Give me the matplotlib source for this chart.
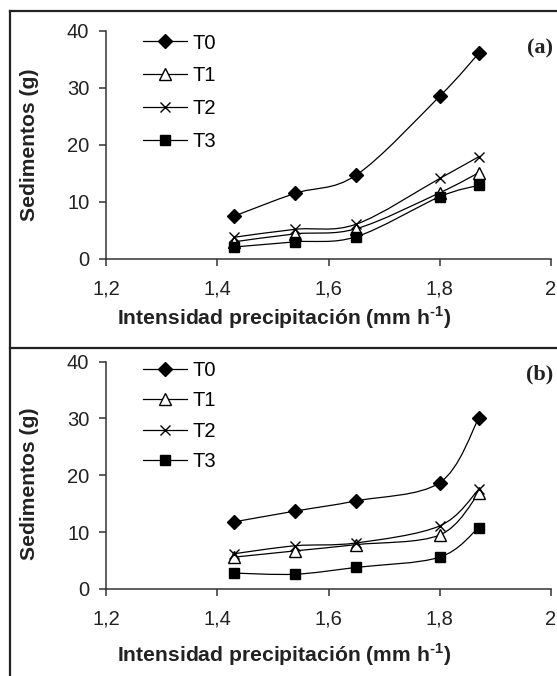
import numpy as np
import matplotlib
matplotlib.use("Agg")
import matplotlib.pyplot as plt
from matplotlib.path import Path
from matplotlib.patches import PathPatch
from matplotlib.lines import Line2D
from matplotlib.ticker import FuncFormatter

# data
intensidad = [1.43, 1.54, 1.65, 1.80, 1.87]
series = ["T0", "T1", "T2", "T3"]

a_T0 = [7.5, 11.5, 14.7, 28.5, 36.0]
a_T1 = [3.0, 4.4, 5.3, 11.6, 15.1]
a_T2 = [3.8, 5.2, 6.1, 14.1, 17.9]
a_T3 = [2.1, 3.0, 3.9, 10.9, 12.9]

b_T0 = [11.8, 13.7, 15.5, 18.7, 30.0]
b_T1 = [5.6, 6.7, 7.8, 9.5, 16.8]
b_T2 = [6.2, 7.6, 8.1, 11.1, 17.5]
b_T3 = [2.8, 2.6, 3.8, 5.6, 10.8]

x_ticks = [1.2, 1.4, 1.6, 1.8, 2.0]
y_ticks = [0, 10, 20, 30, 40]

plt.rcParams['font.family'] = ['Liberation Sans', 'DejaVu Sans']
plt.rcParams['mathtext.fontset'] = 'custom'
plt.rcParams['mathtext.rm'] = 'Liberation Sans:bold'
plt.rcParams['mathtext.bf'] = 'Liberation Sans:bold'

markers = {
    "T0": dict(marker='D', markersize=6.8, markerfacecolor='black', markeredgecolor='black'),
    "T1": dict(marker='^', markersize=8.5, markerfacecolor='white', markeredgecolor='black', markeredgewidth=1.0),
    "T2": dict(marker='x', markersize=7.5, markerfacecolor='none', markeredgecolor='black', markeredgewidth=1.0),
    "T3": dict(marker='s', markersize=7.8, markerfacecolor='black', markeredgecolor='black'),
}


def smooth_path(xs, ys, t=1/6):
    # Excel style smoothed line as cubic bezier segments
    pts = np.column_stack([xs, ys]).astype(float)
    n = len(pts)
    verts = [pts[0]]
    codes = [Path.MOVETO]
    for i in range(n - 1):
        p0 = pts[i - 1] if i > 0 else pts[i]
        p1 = pts[i]
        p2 = pts[i + 1]
        p3 = pts[i + 2] if i + 2 < n else pts[i + 1]
        c1 = p1 + (p2 - p0) * t
        c2 = p2 - (p3 - p1) * t
        verts += [c1, c2, p2]
        codes += [Path.CURVE4] * 3
    return Path(verts, codes)


def draw_panel(ax, data, leg_y, leg_sp):
    for name, vals in zip(series, data):
        ax.add_patch(PathPatch(smooth_path(intensidad, vals), facecolor='none',
                               edgecolor='black', lw=0.9, zorder=2))
    for name, vals in zip(series, data):
        ax.plot(intensidad, vals, linestyle='none', zorder=3, **markers[name])
    ax.set_xlim(1.2, 2.0)
    ax.set_ylim(0, 40)
    ax.set_xticks(x_ticks)
    ax.set_yticks(y_ticks)
    ax.xaxis.set_major_formatter(FuncFormatter(lambda v, p: ('%g' % round(v, 1)).replace('.', ',')))
    for s in ['top', 'right']:
        ax.spines[s].set_visible(False)
    for s in ['left', 'bottom']:
        ax.spines[s].set_linewidth(1.1)
        ax.spines[s].set_color('#333333')
    ax.tick_params(axis='both', direction='out', length=5, width=1.1, color='#333333',
                   labelsize=14.5, labelcolor='#222222')
    ax.tick_params(axis='x', pad=10)
    ax.tick_params(axis='y', pad=7)
    handles = [Line2D([0], [0], color='black', lw=0.9, **markers[n]) for n in series]
    ax.legend(handles, series, loc='upper left', bbox_to_anchor=(0.065, leg_y),
              frameon=False, fontsize=14.5, handlelength=2.2, handletextpad=0.25,
              labelspacing=leg_sp, borderaxespad=0)


fig = plt.figure(figsize=(5.57, 6.76), dpi=100)
W, H = 557, 676

ax1 = fig.add_axes([106 / W, 1 - 259 / H, (551 - 106) / W, (259 - 30.5) / H])
draw_panel(ax1, [a_T0, a_T1, a_T2, a_T3], 1.022, 0.68)
ax2 = fig.add_axes([106 / W, 1 - 589 / H, (551 - 106) / W, (589 - 361.5) / H])
draw_panel(ax2, [b_T0, b_T1, b_T2, b_T3], 1.038, 0.57)

xlabel = 'Intensidad precipitación (mm h$^{\\text{-1}}$)'
for yc, ylc, tag, tagy in [(318, 145, '(a)', 48), (655, 484, '(b)', 374)]:
    fig.text(284 / W, 1 - yc / H, xlabel, ha='center', va='center',
             fontsize=15.2, fontweight='bold', color='#222222')
    fig.text(30 / W, 1 - ylc / H, 'Sedimentos (g)', ha='center', va='center', rotation=90,
             fontsize=15.2, fontweight='bold', color='#222222')
    fig.text(553 / W, 1 - tagy / H, tag, ha='right', va='center', fontsize=16,
             fontweight='bold', family='Liberation Serif', color='#222222')

# outer frames
frame = dict(color='#222222', lw=1.6, transform=fig.transFigure)
fig.add_artist(Line2D([10 / W, 1], [1 - 11 / H, 1 - 11 / H], **frame))
fig.add_artist(Line2D([10 / W, 10 / W], [1 - 11 / H, 0], **frame))
fig.add_artist(Line2D([10 / W, 1], [1 - 348 / H, 1 - 348 / H], **frame))

fig.savefig('out.png', dpi=100)
